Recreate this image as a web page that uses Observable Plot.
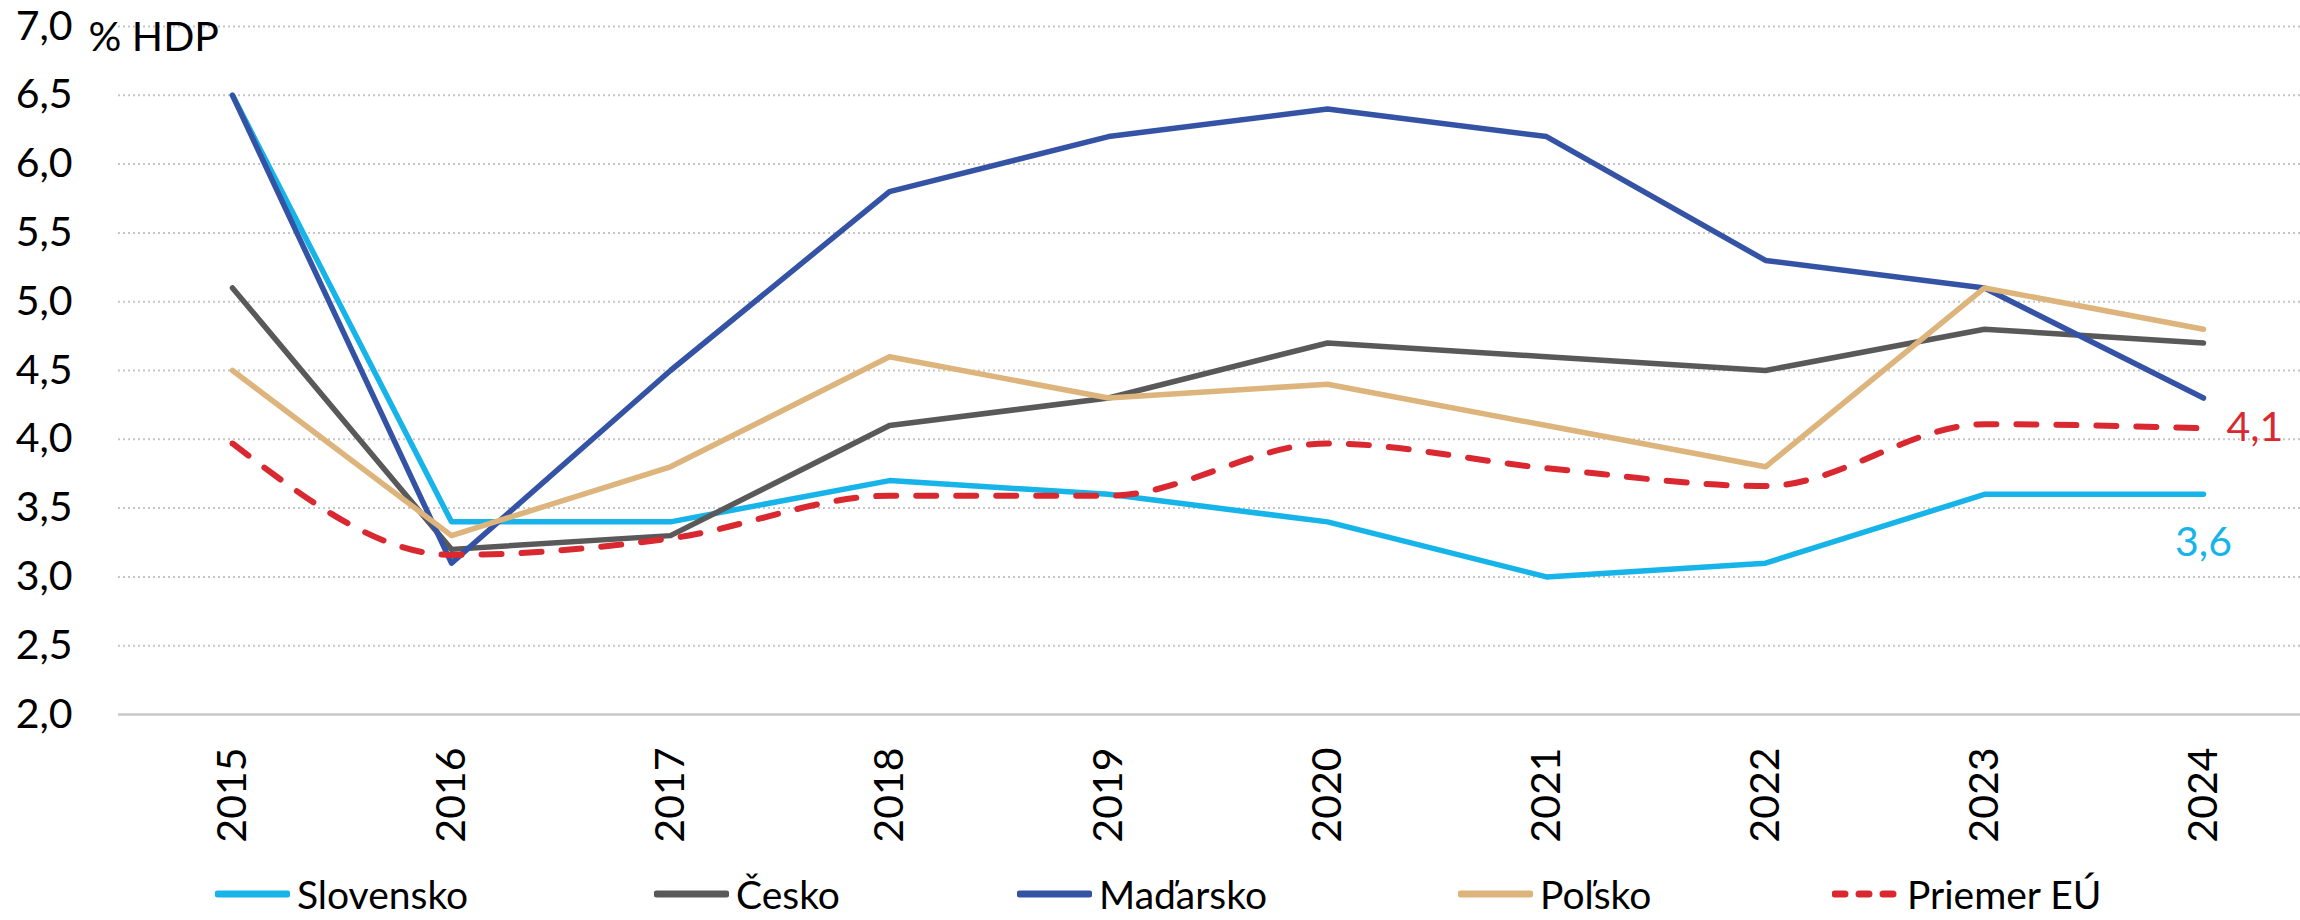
<!DOCTYPE html>
<html>
<head>
<meta charset="utf-8">
<script src="https://cdn.jsdelivr.net/npm/d3@7"></script>
<script src="https://cdn.jsdelivr.net/npm/@observablehq/plot@0.6"></script>
<style>
  html, body { margin: 0; padding: 0; background: #fff; }
  #wrap { position: relative; width: 2300px; height: 920px; font-family: Lato, "Open Sans", sans-serif; }
  #legend { position: absolute; left: 0; top: 867px; width: 2300px; height: 53px; }
  .item { position: absolute; top: 0; height: 53px; display: flex; align-items: center; font-size: 39px; color: #000; }
  .item svg { margin-right: 7px; }
</style>
</head>
<body>
<div id="wrap"><div id="chart"></div><div id="legend"></div></div>
<script>
// ---- data ----
const years = [2015, 2016, 2017, 2018, 2019, 2020, 2021, 2022, 2023, 2024];
const slovensko = [6.5, 3.4, 3.4, 3.7, 3.6, 3.4, 3.0, 3.1, 3.6, 3.6];
const cesko     = [5.1, 3.2, 3.3, 4.1, 4.3, 4.7, 4.6, 4.5, 4.8, 4.7];
const madarsko  = [6.5, 3.1, 4.5, 5.8, 6.2, 6.4, 6.2, 5.3, 5.1, 4.3];
const polsko    = [4.5, 3.3, 3.8, 4.6, 4.3, 4.4, 4.1, 3.8, 5.1, 4.8];
const priemer   = [3.97, 3.16, 3.28, 3.59, 3.59, 3.97, 3.79, 3.66, 4.11, 4.08];
const seriesNames = ["Slovensko", "Česko", "Maďarsko", "Poľsko", "Priemer EÚ"];
const yTicks = [2.0, 2.5, 3.0, 3.5, 4.0, 4.5, 5.0, 5.5, 6.0, 6.5, 7.0];
const unitLabel = "% HDP";

// ---- styles / layout ----
const colors = ["#17b4e9", "#595959", "#3553a5", "#dcb47c", "#d9282f"];
const legendLeft = [218, 657, 1020, 1461, 1835];

const allValues = [slovensko, cesko, madarsko, polsko, priemer];
const rows = [];
allValues.forEach((vals, i) => vals.forEach((v, j) => rows.push({series: seriesNames[i], year: years[j], value: v})));
const fmt = d => d.toFixed(1).replace(".", ",");

const solid = seriesNames.slice(0, 4);
const lastIdx = years.length - 1;

const chart = Plot.plot({
  width: 2300,
  height: 860,
  marginLeft: 118,
  marginRight: 0,
  marginTop: 26,
  marginBottom: 146,
  style: {fontFamily: "Lato, 'Open Sans', sans-serif", fontSize: "40px", color: "#000", background: "#fff"},
  x: {type: "point", domain: years, range: [228, 2207], padding: 0},
  y: {domain: [2, 7]},
  color: {domain: seriesNames, range: colors},
  marks: [
    Plot.gridY(yTicks.filter(d => d > 2), {stroke: "#c6c6c6", strokeOpacity: 1, strokeWidth: 2, strokeDasharray: "2,3"}),
    Plot.ruleY([2], {stroke: "#c8c8c8", strokeWidth: 2.5}),
    Plot.axisY({ticks: yTicks, tickSize: 0, tickPadding: 46, tickFormat: fmt, label: null, fontSize: 41}),
    Plot.axisX({tickRotate: -90, tickSize: 0, tickPadding: 33, label: null, fontSize: 41, tickFormat: d => String(d)}),
    Plot.text([unitLabel], {frameAnchor: "top-left", dx: -30, dy: 11, textAnchor: "start", lineAnchor: "middle", fontSize: 41}),
    ...solid.map(name => Plot.line(rows.filter(r => r.series === name), {
      x: "year", y: "value", stroke: "series", strokeWidth: 5.5, strokeLinecap: "round", strokeLinejoin: "round"
    })),
    Plot.line(rows.filter(r => r.series === "Priemer EÚ"), {
      x: "year", y: "value", stroke: "series", strokeWidth: 6, curve: "monotone-x",
      strokeDasharray: "20,20", strokeLinecap: "round"
    }),
    Plot.text([{year: years[lastIdx], value: priemer[lastIdx]}], {
      x: "year", y: "value", text: d => fmt(d.value), fill: colors[4], dx: 23, textAnchor: "start", fontSize: 41
    }),
    Plot.text([{year: years[lastIdx], value: slovensko[lastIdx]}], {
      x: "year", y: "value", text: d => fmt(d.value), fill: colors[0], dy: 49, textAnchor: "middle", fontSize: 41
    })
  ]
});
document.getElementById("chart").appendChild(chart);

// ---- legend ----
const legend = document.getElementById("legend");
seriesNames.forEach((name, i) => {
  const item = document.createElement("div");
  item.className = "item";
  item.style.left = legendLeft[i] + "px";
  const dashed = name === "Priemer EÚ";
  const w = dashed ? 62 : 69;
  item.innerHTML = `<svg width="${w + 6}" height="20" style="margin-left:-3px"><line x1="3" x2="${w + 3}" y1="10" y2="10" stroke="${colors[i]}" stroke-width="7" stroke-linecap="round" ${dashed ? 'stroke-dasharray="10,14"' : ''}/></svg><span>${name}</span>`;
  legend.appendChild(item);
});
</script>
</body>
</html>
